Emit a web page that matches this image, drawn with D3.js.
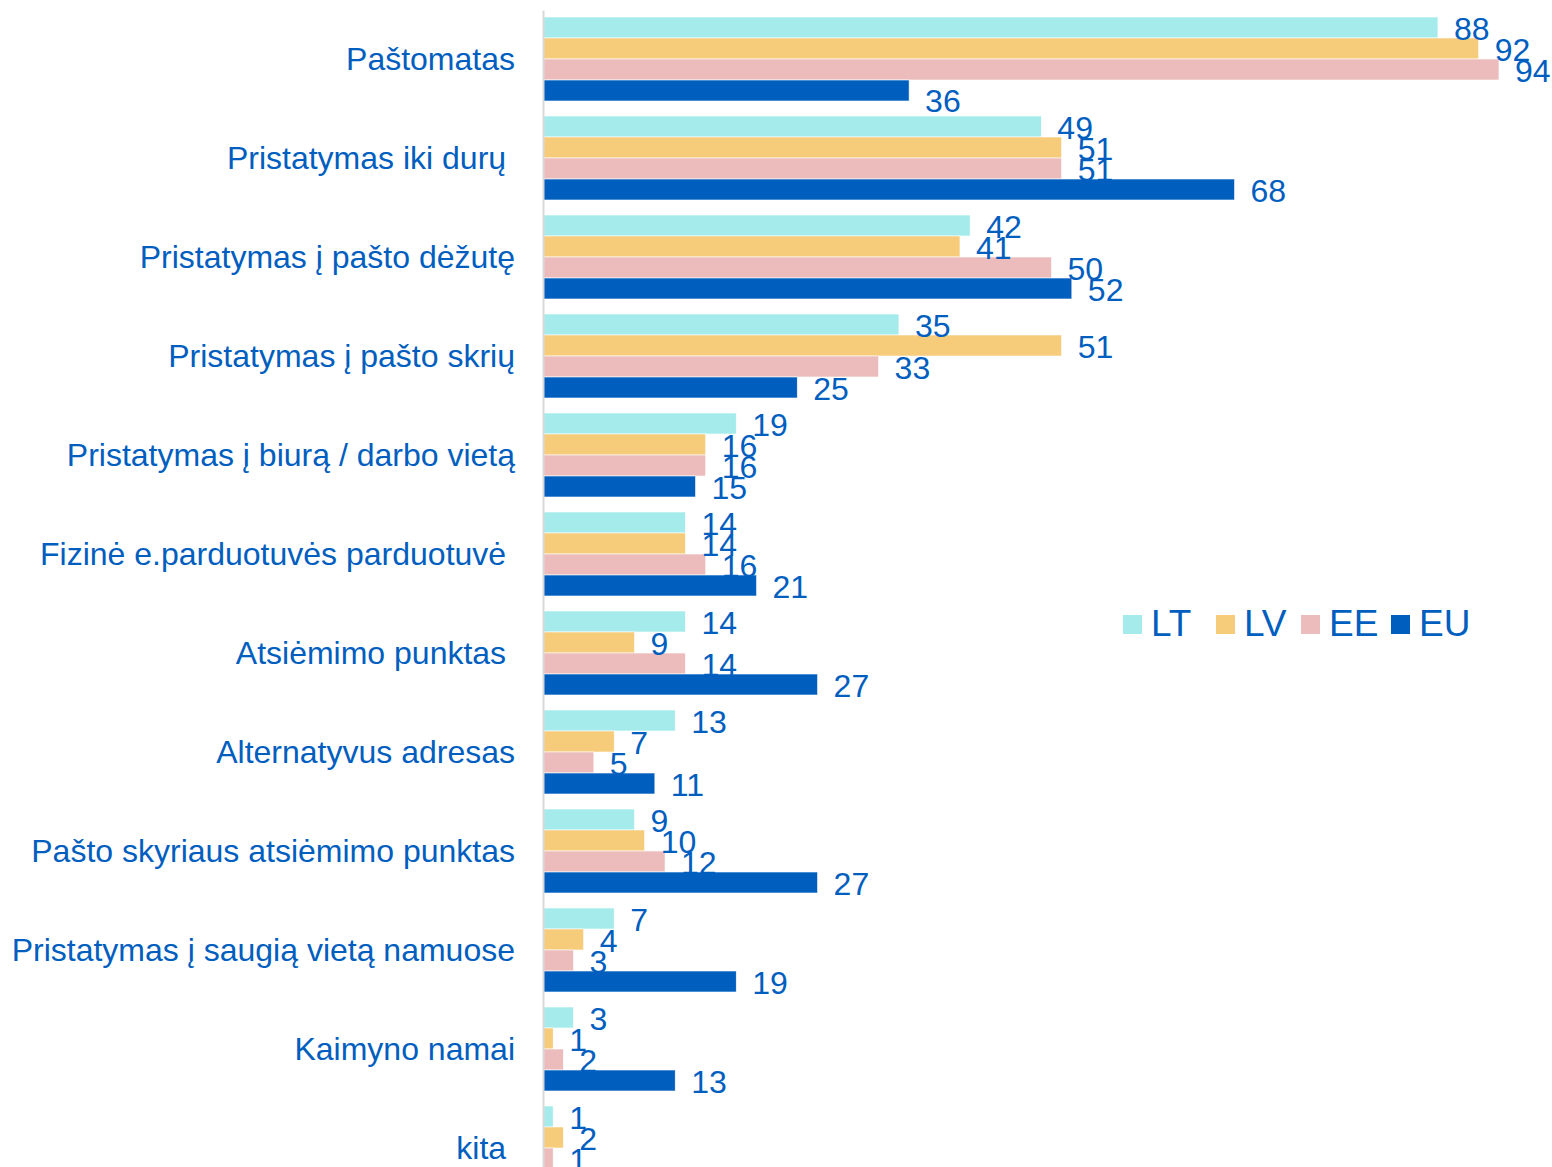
<!DOCTYPE html>
<html>
<head>
<meta charset="utf-8">
<script src="https://cdn.jsdelivr.net/npm/d3@7"></script>
<style>
  html, body { margin: 0; padding: 0; background: #fff; overflow: hidden; }
  text { font-family: "Liberation Sans", Arial, sans-serif; fill: #005EBF; }
  .axis text { font-size: 32px; white-space: pre; }
  .val { font-size: 32px; }
  .legend text { font-size: 37px; }
</style>
</head>
<body>
<div id="chart"></div>
<script>
const categories = [
  "Paštomatas",
  "Pristatymas iki durų ",
  "Pristatymas į pašto dėžutę",
  "Pristatymas į pašto skrių",
  "Pristatymas į biurą / darbo vietą",
  "Fizinė e.parduotuvės parduotuvė ",
  "Atsiėmimo punktas ",
  "Alternatyvus adresas",
  "Pašto skyriaus atsiėmimo punktas",
  "Pristatymas į saugią vietą namuose",
  "Kaimyno namai",
  "kita "
];
const series = ["LT", "LV", "EE", "EU"];
const colors = ["#A6EBEB", "#F6CB7A", "#ECBCBD", "#005EBF"];
const valuesLT = [88, 49, 42, 35, 19, 14, 14, 13, 9, 7, 3, 1];
const valuesLV = [92, 51, 41, 51, 16, 14, 9, 7, 10, 4, 1, 2];
const valuesEE = [94, 51, 50, 33, 16, 16, 14, 5, 12, 3, 2, 1];
const valuesEU = [36, 68, 52, 25, 15, 21, 27, 11, 27, 19, 13, 3];

const dim = {width: 1552, height: 1167, axisX: 543};
const rows = categories.map((c, i) => ({
  cat: c,
  vals: [valuesLT[i], valuesLV[i], valuesEE[i], valuesEU[i]]
}));

const svg = d3.select("#chart").append("svg")
  .attr("width", dim.width)
  .attr("height", dim.height);

const x = d3.scaleLinear([0, 100], [dim.axisX, 1560]);
const y = d3.scaleBand(categories, [10, 1197])
  .paddingInner(15 / 99)
  .paddingOuter(7 / 99);
const ySub = d3.scaleBand(series, [0, y.bandwidth()]);

const groups = svg.selectAll("g.group")
  .data(rows)
  .join("g")
    .attr("class", "group")
    .attr("transform", d => `translate(0 ${y(d.cat)})`);

groups.selectAll("rect")
  .data(d => d.vals.map((v, i) => ({key: series[i], v, i, cat: d.cat})))
  .join("rect")
    .attr("x", x(0))
    .attr("y", d => ySub(d.key))
    .attr("width", d => x(d.v) - x(0))
    .attr("height", ySub.bandwidth())
    .attr("fill", d => colors[d.i])
    .attr("stroke", "#fff")
    .attr("stroke-width", 0.6);

// the first EU label sits a bit lower in the original, out of the way of 94
groups.selectAll("text.val")
  .data(d => d.vals.map((v, i) => ({key: series[i], v, i, cat: d.cat})))
  .join("text")
    .attr("class", "val")
    .attr("x", d => x(d.v) + 16)
    .attr("y", d => ySub(d.key) + ySub.bandwidth() / 2 + 1
      + (d.cat === categories[0] && d.key === "EU" ? 9 : 0))
    .attr("dy", "0.35em")
    .text(d => d.v);

const axis = svg.append("g")
  .attr("class", "axis")
  .attr("transform", `translate(${x(0)} 0)`)
  .call(d3.axisLeft(y).tickSize(0).tickSizeOuter(0).tickPadding(28));
axis.select(".domain").attr("stroke", "#d9d9d9").attr("stroke-width", 2);
axis.selectAll("text").attr("fill", "#005EBF").attr("dy", "0.35em");

const legend = svg.append("g").attr("class", "legend");
const legendX = [1123, 1216, 1301, 1391];
series.forEach((s, i) => {
  legend.append("rect")
    .attr("x", legendX[i]).attr("y", 615)
    .attr("width", 19).attr("height", 19)
    .attr("fill", colors[i]);
  legend.append("text")
    .attr("x", legendX[i] + 28).attr("y", 636)
    .text(s);
});
</script>
</body>
</html>
